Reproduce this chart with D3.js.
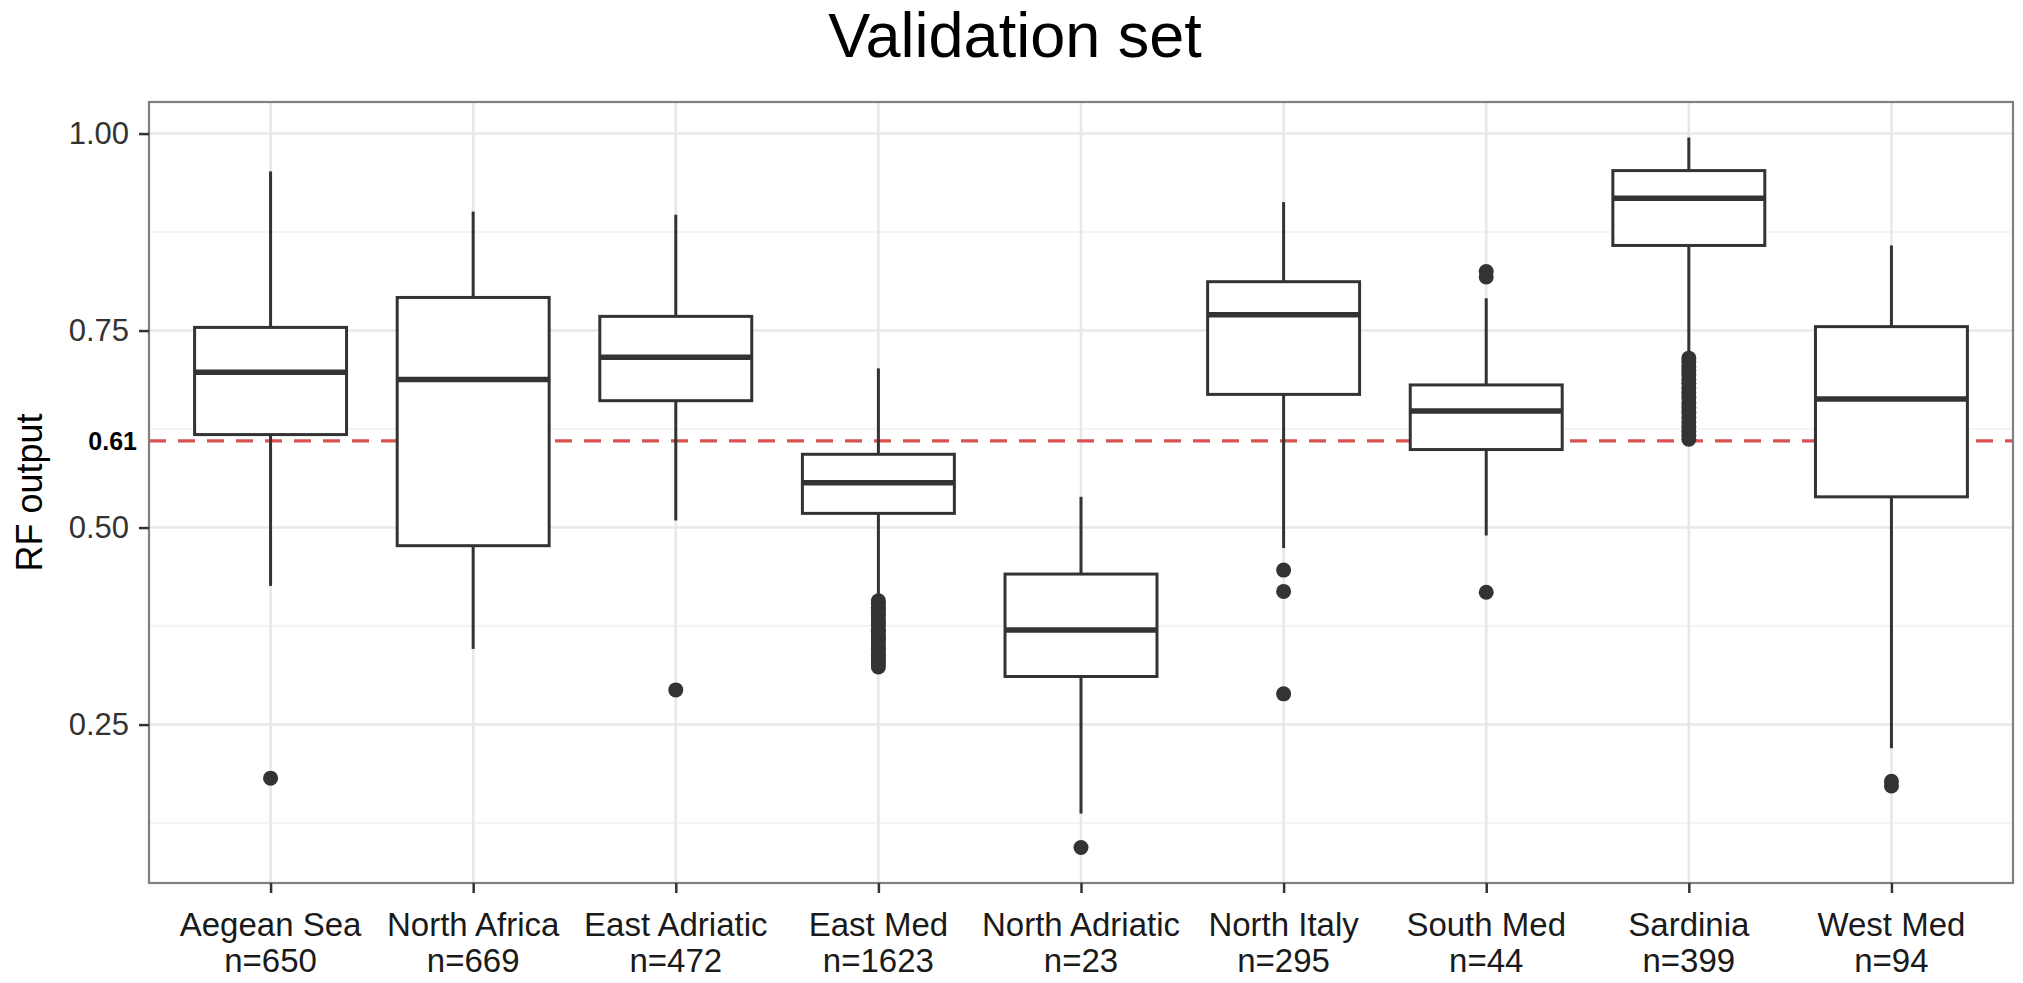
<!DOCTYPE html>
<html>
<head>
<meta charset="utf-8">
<script src="https://cdn.jsdelivr.net/npm/d3@7"></script>
<style>
    html, body { margin: 0; padding: 0; background: #fff; }
    svg { display: block; font-family: "Liberation Sans", Arial, sans-serif; }
</style>
</head>
<body>
<svg id="canvas" width="2023" height="983"></svg>
<script>
// data
var regions = ['Aegean Sea', 'North Africa', 'East Adriatic', 'East Med', 'North Adriatic',
               'North Italy', 'South Med', 'Sardinia', 'West Med'];
var counts = [650, 669, 472, 1623, 23, 295, 44, 399, 94];

var whiskerLow  = [0.426, 0.346, 0.509, 0.409, 0.137, 0.474, 0.490, 0.718, 0.220];
var q1          = [0.618, 0.477, 0.661, 0.518, 0.311, 0.669, 0.599, 0.858, 0.539];
var median      = [0.697, 0.688, 0.716, 0.557, 0.370, 0.770, 0.648, 0.918, 0.663];
var q3          = [0.754, 0.792, 0.768, 0.593, 0.441, 0.812, 0.681, 0.953, 0.755];
var whiskerHigh = [0.952, 0.901, 0.897, 0.702, 0.539, 0.913, 0.791, 0.995, 0.858];

var outliers = [
    [0.182],
    [],
    [0.294],
    [0.407, 0.404, 0.399, 0.396, 0.391, 0.388, 0.383, 0.379, 0.376, 0.371, 0.368,
     0.363, 0.359, 0.356, 0.351, 0.347, 0.344, 0.339, 0.335, 0.331, 0.327, 0.323],
    [0.094],
    [0.446, 0.419, 0.289],
    [0.825, 0.818, 0.418],
    [0.715, 0.710, 0.704, 0.699, 0.694, 0.688, 0.683, 0.677, 0.671, 0.665, 0.658,
     0.652, 0.646, 0.640, 0.634, 0.628, 0.622, 0.617, 0.612],
    [0.178, 0.172]
];

var yTicks = [0.25, 0.50, 0.75, 1.00];
var yMinorTicks = [0.125, 0.375, 0.625, 0.875];
var threshold = 0.61;

var boxes = regions.map(function(r, i) {
    return { region: r, n: counts[i], lo: whiskerLow[i], q1: q1[i], med: median[i],
             q3: q3[i], hi: whiskerHigh[i], out: outliers[i] };
});

// layout
var svg = d3.select('#canvas'),
    panel = { left: 149, right: 2013, top: 102, bottom: 883 };

// scales: ggplot style, discrete x padded by 0.6, y expanded 5%
var allValues = d3.merge([whiskerLow, whiskerHigh, d3.merge(outliers)]),
    yMin = d3.min(allValues),
    yMax = d3.max(allValues),
    pad = (yMax - yMin) * 0.05;

var x = d3.scaleLinear()
    .domain([0.4, regions.length + 0.6])
    .range([panel.left, panel.right]);
var y = d3.scaleLinear()
    .domain([yMin - pad, yMax + pad])
    .range([panel.bottom, panel.top]);
var boxWidth = (x(1) - x(0)) * 0.75;

// title
svg.append('text')
    .attr('x', 1015)
    .attr('y', 57)
    .attr('text-anchor', 'middle')
    .style('font-size', '63px')
    .style('fill', '#000')
    .text('Validation set');

// grid
//
var grid = svg.append('g').attr('class', 'grid');
grid.selectAll('.minor')
    .data(yMinorTicks)
  .enter().append('line')
    .attr('class', 'minor')
    .attr('x1', panel.left).attr('x2', panel.right)
    .attr('y1', y).attr('y2', y)
    .style('stroke', '#f0f0f0')
    .style('stroke-width', 1.6);
grid.selectAll('.major-y')
    .data(yTicks)
  .enter().append('line')
    .attr('class', 'major-y')
    .attr('x1', panel.left).attr('x2', panel.right)
    .attr('y1', y).attr('y2', y)
    .style('stroke', '#e8e8e8')
    .style('stroke-width', 2.6);
grid.selectAll('.major-x')
    .data(d3.range(1, regions.length + 1))
  .enter().append('line')
    .attr('class', 'major-x')
    .attr('x1', x).attr('x2', x)
    .attr('y1', panel.top).attr('y2', panel.bottom)
    .style('stroke', '#e8e8e8')
    .style('stroke-width', 2.6);

// threshold line (under the boxes)
svg.append('line')
    .attr('x1', panel.left).attr('x2', panel.right)
    .attr('y1', y(threshold)).attr('y2', y(threshold))
    .style('stroke', '#d9534f')
    .style('stroke-width', 3.2)
    .style('stroke-dasharray', '17,12');

// boxplots
//
var g = svg.selectAll('.box')
    .data(boxes)
  .enter().append('g')
    .attr('class', 'box')
    .attr('transform', function(d, i) { return 'translate(' + x(i + 1) + ',0)'; });

g.append('line')
    .attr('class', 'whisker-high')
    .attr('x1', 0).attr('x2', 0)
    .attr('y1', function(d) { return y(d.hi); })
    .attr('y2', function(d) { return y(d.q3); });
g.append('line')
    .attr('class', 'whisker-low')
    .attr('x1', 0).attr('x2', 0)
    .attr('y1', function(d) { return y(d.q1); })
    .attr('y2', function(d) { return y(d.lo); });
g.selectAll('line')
    .style('stroke', '#333')
    .style('stroke-width', 3);

g.append('rect')
    .attr('x', -boxWidth / 2)
    .attr('width', boxWidth)
    .attr('y', function(d) { return y(d.q3); })
    .attr('height', function(d) { return y(d.q1) - y(d.q3); })
    .style('fill', '#fff')
    .style('stroke', '#333')
    .style('stroke-width', 3);

g.append('line')
    .attr('class', 'median')
    .attr('x1', -boxWidth / 2).attr('x2', boxWidth / 2)
    .attr('y1', function(d) { return y(d.med); })
    .attr('y2', function(d) { return y(d.med); })
    .style('stroke', '#333')
    .style('stroke-width', 5.5);

g.selectAll('circle')
    .data(function(d) { return d.out; })
  .enter().append('circle')
    .attr('cx', 0)
    .attr('cy', y)
    .attr('r', 7.5)
    .style('fill', '#333');

// panel border
svg.append('rect')
    .attr('x', panel.left).attr('y', panel.top)
    .attr('width', panel.right - panel.left)
    .attr('height', panel.bottom - panel.top)
    .style('fill', 'none')
    .style('stroke', '#808080')
    .style('stroke-width', 2.2);

// y axis
//
var yAxis = svg.append('g')
    .attr('transform', 'translate(' + panel.left + ',0)')
    .call(d3.axisLeft(y).tickValues(yTicks).tickFormat(d3.format('.2f'))
        .tickSize(10).tickPadding(10));
yAxis.select('.domain').remove();
yAxis.selectAll('.tick line').style('stroke', '#333').style('stroke-width', 2.5);
yAxis.selectAll('.tick text')
    .style('font-size', '31px')
    .style('fill', '#333')
    .style('font-family', '"Liberation Sans", Arial, sans-serif');

svg.append('text')
    .attr('x', panel.left - 12)
    .attr('y', y(threshold))
    .attr('dy', '0.36em')
    .attr('text-anchor', 'end')
    .style('font-size', '25px')
    .style('font-weight', 'bold')
    .style('fill', '#000')
    .text(d3.format('.2f')(threshold));

svg.append('text')
    .attr('transform', 'translate(42,' + (panel.top + panel.bottom) / 2 + ') rotate(-90)')
    .attr('text-anchor', 'middle')
    .style('font-size', '36px')
    .style('fill', '#000')
    .text('RF output');

// x axis
//
var xAxis = svg.append('g')
    .attr('transform', 'translate(0,' + panel.bottom + ')')
    .call(d3.axisBottom(x).tickValues(d3.range(1, regions.length + 1))
        .tickFormat('').tickSize(10));
xAxis.select('.domain').remove();
xAxis.selectAll('.tick line').style('stroke', '#333').style('stroke-width', 2.5);

var labels = svg.selectAll('.x-label')
    .data(boxes)
  .enter().append('text')
    .attr('class', 'x-label')
    .attr('text-anchor', 'middle')
    .style('font-size', '33px')
    .style('fill', '#1a1a1a');
labels.append('tspan')
    .attr('x', function(d, i) { return x(i + 1); })
    .attr('y', 936)
    .text(function(d) { return d.region; });
labels.append('tspan')
    .attr('x', function(d, i) { return x(i + 1); })
    .attr('y', 972)
    .text(function(d) { return 'n=' + d.n; });
</script>
</body>
</html>
